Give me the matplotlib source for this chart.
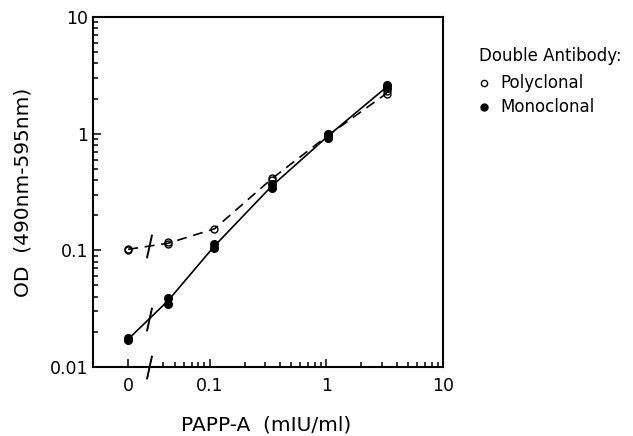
import numpy as np
import matplotlib
matplotlib.use('Agg')
import matplotlib.pyplot as plt
from matplotlib.lines import Line2D
from matplotlib.ticker import FixedLocator, NullFormatter

plt.rcParams['font.family'] = ['DejaVu Sans']

# PAPP-A (mIU/ml); the "0" standard is drawn at 0.02, axis broken at 0.03
x_zero = 0.02
x_break = 0.03
conc = [0.044, 0.11, 0.34, 1.04, 3.3]

# OD replicates
poly_zero = [0.100, 0.102]
poly_x = [0.044, 0.044, 0.11, 0.34, 0.34, 1.04, 1.04, 3.3, 3.3]
poly_od = [0.113, 0.118, 0.153, 0.40, 0.42, 0.95, 1.00, 2.20, 2.30]
mono_zero = [0.0170, 0.0176]
mono_x = [0.044, 0.044, 0.11, 0.11, 0.34, 0.34, 1.04, 1.04, 3.3, 3.3]
mono_od = [0.035, 0.039, 0.105, 0.113, 0.34, 0.37, 0.92, 1.00, 2.45, 2.60]

# curve values (through the replicate means)
poly_curve = [0.102, 0.115, 0.153, 0.41, 0.97, 2.22]
mono_curve = [0.0173, 0.037, 0.109, 0.355, 0.96, 2.52]

xticks = [0.02, 0.1, 1, 10]
xticklabels = ['0', '0.1', '1', '10']
yticks = [0.01, 0.1, 1, 10]
yticklabels = ['0.01', '0.1', '1', '10']

fig = plt.figure(figsize=(6.33, 4.36), dpi=100)
ax = fig.add_axes([93/633, 1-367/436, 350/633, 350/436])
ax.set_xscale('log')
ax.set_yscale('log')
ax.set_xlim(0.01, 10)
ax.set_ylim(0.01, 10)

def log_interp(x, xs, ys):
    return 10**np.interp(np.log10(x), np.log10(xs), np.log10(ys))

cx = [x_zero] + conc
# polyclonal dashed curve
ax.plot(cx, poly_curve, color='black', lw=1.2, ls=(0, (6, 4)), zorder=2)
# monoclonal solid curve
ax.plot(cx, mono_curve, color='black', lw=1.2, zorder=2)

ax.plot([x_zero]*len(poly_zero), poly_zero, 'o', ms=5, mfc='none', mec='black', mew=1.0, zorder=4)
ax.plot(poly_x, poly_od, 'o', ms=5, mfc='none', mec='black', mew=1.0, zorder=4)
ax.plot([x_zero]*len(mono_zero), mono_zero, 'o', ms=5.5, color='black', zorder=5)
ax.plot(mono_x, mono_od, 'o', ms=5.5, color='black', zorder=5)

# break marks
slash = [(-0.22, -1.0), (0.22, 1.0)]
for yb in [log_interp(x_break, cx, poly_curve), log_interp(x_break, cx, mono_curve), 0.01]:
    ax.plot([x_break], [yb], marker=slash, ms=17, mew=1.4, color='black',
            ls='none', clip_on=False, zorder=6)

# ticks
ax.xaxis.set_major_locator(FixedLocator(xticks))
ax.set_xticklabels(xticklabels)
xminor = [m*d for d in [0.01, 0.1, 1] for m in range(2, 10)]
xminor = [v for v in xminor if v > 0.035 and v not in xticks]
ax.xaxis.set_minor_locator(FixedLocator(xminor))
ax.xaxis.set_minor_formatter(NullFormatter())
ax.yaxis.set_major_locator(FixedLocator(yticks))
ax.set_yticklabels(yticklabels)
ax.yaxis.set_minor_locator(FixedLocator([m*d for d in [0.01, 0.1, 1] for m in range(2, 10)]))
ax.yaxis.set_minor_formatter(NullFormatter())
ax.tick_params(which='both', direction='in', top=False, right=False, labelsize=12.5, width=1.1)
ax.tick_params(which='major', length=6)
ax.tick_params(which='minor', length=3.5)
ax.tick_params(axis='x', pad=7)
ax.tick_params(axis='y', pad=3.5)
for s in ax.spines.values():
    s.set_linewidth(1.5)

fig.text(23/633, 1-192/436, 'OD  (490nm-595nm)', rotation=90, ha='center', va='center', fontsize=14.5)
fig.text(266/633, 1-425/436, 'PAPP-A  (mIU/ml)', ha='center', va='center', fontsize=14.5)

# legend
fig.text(479/633, 1-56/436, 'Double Antibody:', ha='left', va='center', fontsize=12)
fig.lines.append(Line2D([484/633], [1-83/436], transform=fig.transFigure, ls='none',
                        marker='o', ms=4.5, mfc='white', mec='black', mew=1.0))
fig.lines.append(Line2D([484/633], [1-107/436], transform=fig.transFigure, ls='none',
                        marker='o', ms=5, color='black'))
fig.text(500/633, 1-83/436, 'Polyclonal', ha='left', va='center', fontsize=12)
fig.text(500/633, 1-107/436, 'Monoclonal', ha='left', va='center', fontsize=12)

fig.savefig('out.png', dpi=100)
